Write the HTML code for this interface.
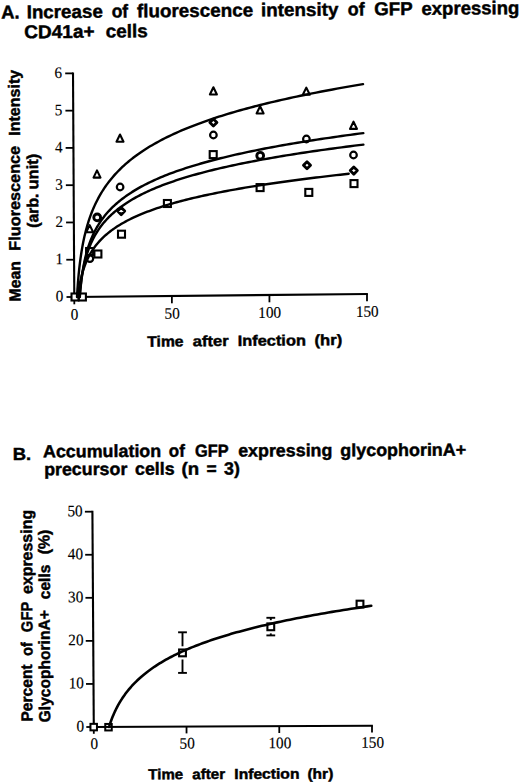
<!DOCTYPE html>
<html><head><meta charset="utf-8"><style>
html,body{margin:0;padding:0;background:#fff;}
text{-webkit-font-smoothing:antialiased;}
svg{display:block;}
</style></head><body>
<svg width="520" height="783" viewBox="0 0 520 783">
<rect width="520" height="783" fill="#fff"/>
<text transform="translate(1.17,18.56) rotate(-0.500) scale(0.9934,1)" style="font-family:'Liberation Sans',sans-serif;font-weight:bold;font-size:18.50px" stroke="#000" stroke-width="0.45">A.</text>
<text transform="translate(26.67,18.33) rotate(-0.500) scale(1.0156,1)" style="font-family:'Liberation Sans',sans-serif;font-weight:bold;font-size:18.50px" stroke="#000" stroke-width="0.45">Increase</text>
<text transform="translate(111.64,17.59) rotate(-0.500) scale(0.9506,1)" style="font-family:'Liberation Sans',sans-serif;font-weight:bold;font-size:18.50px" stroke="#000" stroke-width="0.45">of</text>
<text transform="translate(137.00,17.37) rotate(-0.500) scale(1.0191,1)" style="font-family:'Liberation Sans',sans-serif;font-weight:bold;font-size:18.50px" stroke="#000" stroke-width="0.45">fluorescence</text>
<text transform="translate(261.11,16.28) rotate(-0.500) scale(1.0183,1)" style="font-family:'Liberation Sans',sans-serif;font-weight:bold;font-size:18.50px" stroke="#000" stroke-width="0.45">intensity</text>
<text transform="translate(347.83,15.53) rotate(-0.500) scale(0.9684,1)" style="font-family:'Liberation Sans',sans-serif;font-weight:bold;font-size:18.50px" stroke="#000" stroke-width="0.45">of</text>
<text transform="translate(374.26,15.30) rotate(-0.500) scale(1.0110,1)" style="font-family:'Liberation Sans',sans-serif;font-weight:bold;font-size:18.50px" stroke="#000" stroke-width="0.45">GFP</text>
<text transform="translate(421.40,14.89) rotate(-0.500) scale(1.0045,1)" style="font-family:'Liberation Sans',sans-serif;font-weight:bold;font-size:18.50px" stroke="#000" stroke-width="0.45">expressing</text>
<text transform="translate(24.24,38.28) rotate(-0.500) scale(1.0295,1)" style="font-family:'Liberation Sans',sans-serif;font-weight:bold;font-size:18.50px" stroke="#000" stroke-width="0.45">CD41a+</text>
<text transform="translate(105.69,37.57) rotate(-0.500) scale(1.0249,1)" style="font-family:'Liberation Sans',sans-serif;font-weight:bold;font-size:18.50px" stroke="#000" stroke-width="0.45">cells</text>
<line x1="73.00" y1="72.48" x2="74.30" y2="297.90" stroke="#000" stroke-width="2.10" stroke-linecap="butt"/>
<line x1="73.40" y1="297.00" x2="367.89" y2="294.00" stroke="#000" stroke-width="2.10" stroke-linecap="butt"/>
<line x1="66.50" y1="297.00" x2="74.30" y2="297.00" stroke="#000" stroke-width="1.80" stroke-linecap="butt"/>
<text transform="translate(63.40,301.50) rotate(-0.500) scale(0.950,1)" text-anchor="end" style="font-family:'Liberation Serif',serif;font-size:16.00px" stroke="#000" stroke-width="0.15">0</text>
<line x1="66.28" y1="259.73" x2="74.08" y2="259.73" stroke="#000" stroke-width="1.80" stroke-linecap="butt"/>
<text transform="translate(63.18,264.23) rotate(-0.500) scale(0.950,1)" text-anchor="end" style="font-family:'Liberation Serif',serif;font-size:16.00px" stroke="#000" stroke-width="0.15">1</text>
<line x1="66.07" y1="222.46" x2="73.87" y2="222.46" stroke="#000" stroke-width="1.80" stroke-linecap="butt"/>
<text transform="translate(62.97,226.96) rotate(-0.500) scale(0.950,1)" text-anchor="end" style="font-family:'Liberation Serif',serif;font-size:16.00px" stroke="#000" stroke-width="0.15">2</text>
<line x1="65.85" y1="185.19" x2="73.65" y2="185.19" stroke="#000" stroke-width="1.80" stroke-linecap="butt"/>
<text transform="translate(62.75,189.69) rotate(-0.500) scale(0.950,1)" text-anchor="end" style="font-family:'Liberation Serif',serif;font-size:16.00px" stroke="#000" stroke-width="0.15">3</text>
<line x1="65.63" y1="147.92" x2="73.43" y2="147.92" stroke="#000" stroke-width="1.80" stroke-linecap="butt"/>
<text transform="translate(62.53,152.42) rotate(-0.500) scale(0.950,1)" text-anchor="end" style="font-family:'Liberation Serif',serif;font-size:16.00px" stroke="#000" stroke-width="0.15">4</text>
<line x1="65.42" y1="110.65" x2="73.22" y2="110.65" stroke="#000" stroke-width="1.80" stroke-linecap="butt"/>
<text transform="translate(62.32,115.15) rotate(-0.500) scale(0.950,1)" text-anchor="end" style="font-family:'Liberation Serif',serif;font-size:16.00px" stroke="#000" stroke-width="0.15">5</text>
<line x1="65.20" y1="73.38" x2="73.00" y2="73.38" stroke="#000" stroke-width="1.80" stroke-linecap="butt"/>
<text transform="translate(62.10,77.88) rotate(-0.500) scale(0.950,1)" text-anchor="end" style="font-family:'Liberation Serif',serif;font-size:16.00px" stroke="#000" stroke-width="0.15">6</text>
<line x1="74.30" y1="297.00" x2="74.30" y2="304.30" stroke="#000" stroke-width="1.80" stroke-linecap="butt"/>
<text transform="translate(74.60,319.80) rotate(-0.500) scale(0.950,1)" text-anchor="middle" style="font-family:'Liberation Serif',serif;font-size:16.00px" stroke="#000" stroke-width="0.15">0</text>
<line x1="171.87" y1="296.00" x2="171.87" y2="303.30" stroke="#000" stroke-width="1.80" stroke-linecap="butt"/>
<text transform="translate(172.17,318.80) rotate(-0.500) scale(0.950,1)" text-anchor="middle" style="font-family:'Liberation Serif',serif;font-size:16.00px" stroke="#000" stroke-width="0.15">50</text>
<line x1="269.43" y1="295.00" x2="269.43" y2="302.30" stroke="#000" stroke-width="1.80" stroke-linecap="butt"/>
<text transform="translate(269.73,317.80) rotate(-0.500) scale(0.950,1)" text-anchor="middle" style="font-family:'Liberation Serif',serif;font-size:16.00px" stroke="#000" stroke-width="0.15">100</text>
<line x1="367.00" y1="294.00" x2="367.00" y2="301.30" stroke="#000" stroke-width="1.80" stroke-linecap="butt"/>
<text transform="translate(367.30,316.80) rotate(-0.500) scale(0.950,1)" text-anchor="middle" style="font-family:'Liberation Serif',serif;font-size:16.00px" stroke="#000" stroke-width="0.15">150</text>
<text transform="translate(20.50,301.43) rotate(-90.350) scale(0.9876,1)" style="font-family:'Liberation Sans',sans-serif;font-weight:bold;font-size:16.00px" stroke="#000" stroke-width="0.45">Mean</text>
<text transform="translate(20.30,250.67) rotate(-90.350) scale(1.0169,1)" style="font-family:'Liberation Sans',sans-serif;font-weight:bold;font-size:16.00px" stroke="#000" stroke-width="0.45">Fluorescence</text>
<text transform="translate(19.90,135.75) rotate(-90.350) scale(1.0032,1)" style="font-family:'Liberation Sans',sans-serif;font-weight:bold;font-size:16.00px" stroke="#000" stroke-width="0.45">Intensity</text>
<text transform="translate(38.40,227.76) rotate(-90.350) scale(0.9872,1)" style="font-family:'Liberation Sans',sans-serif;font-weight:bold;font-size:16.00px" stroke="#000" stroke-width="0.45">(arb.</text>
<text transform="translate(38.20,189.50) rotate(-90.350) scale(1.0361,1)" style="font-family:'Liberation Sans',sans-serif;font-weight:bold;font-size:16.00px" stroke="#000" stroke-width="0.45">unit)</text>
<text transform="translate(147.25,346.70) rotate(-0.500) scale(1.0465,1)" style="font-family:'Liberation Sans',sans-serif;font-weight:bold;font-size:15.00px" stroke="#000" stroke-width="0.45">Time</text>
<text transform="translate(192.84,346.30) rotate(-0.500) scale(1.1038,1)" style="font-family:'Liberation Sans',sans-serif;font-weight:bold;font-size:15.00px" stroke="#000" stroke-width="0.45">after</text>
<text transform="translate(237.63,345.90) rotate(-0.500) scale(1.0938,1)" style="font-family:'Liberation Sans',sans-serif;font-weight:bold;font-size:15.00px" stroke="#000" stroke-width="0.45">Infection</text>
<text transform="translate(314.49,345.23) rotate(-0.500) scale(1.1132,1)" style="font-family:'Liberation Sans',sans-serif;font-weight:bold;font-size:15.00px" stroke="#000" stroke-width="0.45">(hr)</text>
<rect x="71.50" y="293.50" width="7.00" height="7.00" fill="#fff" stroke="#000" stroke-width="2.10"/>
<rect x="78.90" y="293.50" width="7.00" height="7.00" fill="#fff" stroke="#000" stroke-width="2.10"/>
<rect x="86.10" y="248.00" width="7.00" height="7.00" fill="#fff" stroke="#000" stroke-width="2.10"/>
<rect x="94.40" y="250.50" width="7.00" height="7.00" fill="#fff" stroke="#000" stroke-width="2.10"/>
<rect x="118.00" y="230.70" width="7.00" height="7.00" fill="#fff" stroke="#000" stroke-width="2.10"/>
<rect x="163.90" y="200.00" width="7.00" height="7.00" fill="#fff" stroke="#000" stroke-width="2.10"/>
<rect x="209.70" y="151.10" width="7.00" height="7.00" fill="#fff" stroke="#000" stroke-width="2.10"/>
<rect x="256.60" y="184.10" width="7.00" height="7.00" fill="#fff" stroke="#000" stroke-width="2.10"/>
<rect x="305.30" y="188.90" width="7.00" height="7.00" fill="#fff" stroke="#000" stroke-width="2.10"/>
<rect x="350.50" y="180.10" width="7.00" height="7.00" fill="#fff" stroke="#000" stroke-width="2.10"/>
<circle cx="89.90" cy="258.60" r="3.30" fill="#fff" stroke="#000" stroke-width="2.20"/>
<circle cx="120.10" cy="187.00" r="3.30" fill="#fff" stroke="#000" stroke-width="2.20"/>
<circle cx="213.40" cy="135.00" r="3.30" fill="#fff" stroke="#000" stroke-width="2.20"/>
<circle cx="306.40" cy="139.00" r="3.30" fill="#fff" stroke="#000" stroke-width="2.20"/>
<circle cx="353.50" cy="155.00" r="3.30" fill="#fff" stroke="#000" stroke-width="2.20"/>
<path d="M121.20,207.55 L124.75,211.10 L121.20,214.65 L117.65,211.10 Z" fill="#fff" stroke="#000" stroke-width="2.80" stroke-linejoin="round"/>
<path d="M213.40,118.95 L216.95,122.50 L213.40,126.05 L209.85,122.50 Z" fill="#fff" stroke="#000" stroke-width="2.80" stroke-linejoin="round"/>
<path d="M307.00,161.65 L310.55,165.20 L307.00,168.75 L303.45,165.20 Z" fill="#fff" stroke="#000" stroke-width="2.80" stroke-linejoin="round"/>
<path d="M353.80,167.05 L357.35,170.60 L353.80,174.15 L350.25,170.60 Z" fill="#fff" stroke="#000" stroke-width="2.80" stroke-linejoin="round"/>
<circle cx="97.20" cy="217.40" r="3.40" fill="#fff" stroke="#000" stroke-width="2.90"/>
<circle cx="260.20" cy="155.80" r="3.40" fill="#fff" stroke="#000" stroke-width="2.90"/>
<path d="M89.70,225.10 L93.20,232.30 L86.20,232.30 Z" fill="#fff" stroke="#000" stroke-width="2.10" stroke-linejoin="round"/>
<path d="M97.00,170.40 L100.50,177.60 L93.50,177.60 Z" fill="#fff" stroke="#000" stroke-width="2.10" stroke-linejoin="round"/>
<path d="M120.00,134.50 L123.50,141.70 L116.50,141.70 Z" fill="#fff" stroke="#000" stroke-width="2.10" stroke-linejoin="round"/>
<path d="M213.40,87.30 L216.90,94.50 L209.90,94.50 Z" fill="#fff" stroke="#000" stroke-width="2.10" stroke-linejoin="round"/>
<path d="M260.10,106.30 L263.60,113.50 L256.60,113.50 Z" fill="#fff" stroke="#000" stroke-width="2.10" stroke-linejoin="round"/>
<path d="M306.30,87.60 L309.80,94.80 L302.80,94.80 Z" fill="#fff" stroke="#000" stroke-width="2.10" stroke-linejoin="round"/>
<path d="M353.50,121.70 L357.00,128.90 L350.00,128.90 Z" fill="#fff" stroke="#000" stroke-width="2.10" stroke-linejoin="round"/>
<path d="M77.00,296.97 L77.00,296.96 L77.00,296.89 L77.01,296.75 L77.03,296.51 L77.04,296.17 L77.07,295.72 L77.10,295.14 L77.15,294.43 L77.20,293.60 L77.25,292.63 L77.32,291.52 L77.40,290.29 L77.49,288.94 L77.59,287.47 L77.71,285.88 L77.83,284.19 L77.97,282.40 L78.12,280.53 L78.29,278.58 L78.47,276.56 L78.66,274.47 L78.87,272.34 L79.09,270.16 L79.33,267.94 L79.59,265.70 L79.86,263.43 L80.15,261.14 L80.46,258.85 L80.78,256.54 L81.12,254.24 L81.48,251.94 L81.86,249.64 L82.26,247.35 L82.68,245.07 L83.11,242.81 L83.57,240.56 L84.05,238.33 L84.54,236.11 L85.06,233.92 L85.60,231.75 L86.16,229.60 L86.74,227.47 L87.34,225.37 L87.96,223.29 L88.61,221.23 L89.28,219.20 L89.97,217.19 L90.69,215.20 L91.42,213.24 L92.18,211.30 L92.97,209.39 L93.78,207.50 L94.61,205.63 L95.47,203.79 L96.35,201.96 L97.26,200.17 L98.19,198.39 L99.14,196.63 L100.13,194.90 L101.14,193.19 L102.17,191.50 L103.23,189.82 L104.32,188.17 L105.43,186.54 L106.57,184.93 L107.73,183.34 L108.93,181.76 L110.15,180.21 L111.40,178.67 L112.67,177.15 L113.98,175.65 L115.31,174.16 L116.67,172.69 L118.06,171.24 L119.48,169.80 L120.92,168.38 L122.40,166.97 L123.91,165.58 L125.44,164.21 L127.00,162.85 L128.60,161.50 L130.22,160.17 L131.88,158.85 L133.56,157.54 L135.28,156.25 L137.02,154.97 L138.80,153.70 L140.61,152.45 L142.45,151.20 L144.32,149.97 L146.22,148.76 L148.15,147.55 L150.12,146.35 L152.12,145.17 L154.15,143.99 L156.21,142.83 L158.31,141.68 L160.44,140.54 L162.60,139.40 L164.79,138.28 L167.02,137.17 L169.28,136.07 L171.58,134.97 L173.91,133.89 L176.27,132.81 L178.67,131.75 L181.10,130.69 L183.57,129.64 L186.07,128.60 L188.60,127.57 L191.17,126.55 L193.78,125.53 L196.42,124.52 L199.09,123.52 L201.81,122.53 L204.55,121.55 L207.34,120.57 L210.16,119.60 L213.01,118.64 L215.90,117.68 L218.83,116.73 L221.80,115.79 L224.80,114.85 L227.84,113.92 L230.91,113.00 L234.02,112.09 L237.18,111.18 L240.36,110.27 L243.59,109.38 L246.85,108.49 L250.15,107.60 L253.49,106.72 L256.87,105.85 L260.29,104.98 L263.74,104.12 L267.23,103.26 L270.77,102.41 L274.34,101.56 L277.95,100.72 L281.60,99.89 L285.29,99.05 L289.01,98.23 L292.78,97.41 L296.59,96.59 L300.44,95.78 L304.33,94.98 L308.25,94.17 L312.22,93.38 L316.23,92.58 L320.28,91.80 L324.37,91.01 L328.50,90.23 L332.68,89.46 L336.89,88.69 L341.14,87.92 L345.44,87.16 L349.78,86.40 L354.16,85.64 L358.58,84.89 L363.04,84.15" fill="none" stroke="#000" stroke-width="2.4" stroke-linecap="round" stroke-linejoin="round"/>
<path d="M79.84,296.94 L79.84,296.93 L79.85,296.88 L79.85,296.77 L79.87,296.58 L79.89,296.32 L79.91,295.96 L79.95,295.51 L79.99,294.96 L80.04,294.30 L80.10,293.54 L80.17,292.68 L80.25,291.72 L80.34,290.66 L80.44,289.51 L80.56,288.28 L80.68,286.96 L80.82,285.57 L80.97,284.12 L81.14,282.60 L81.32,281.03 L81.51,279.41 L81.72,277.76 L81.95,276.07 L82.19,274.36 L82.44,272.62 L82.72,270.87 L83.01,269.10 L83.31,267.33 L83.64,265.55 L83.98,263.78 L84.34,262.00 L84.72,260.23 L85.11,258.47 L85.53,256.72 L85.96,254.98 L86.42,253.25 L86.89,251.53 L87.39,249.83 L87.90,248.15 L88.44,246.48 L88.99,244.83 L89.57,243.20 L90.17,241.58 L90.79,239.99 L91.43,238.41 L92.10,236.85 L92.79,235.31 L93.50,233.78 L94.23,232.28 L94.98,230.80 L95.76,229.33 L96.57,227.88 L97.39,226.45 L98.25,225.04 L99.12,223.64 L100.02,222.26 L100.95,220.90 L101.90,219.56 L102.87,218.23 L103.87,216.92 L104.90,215.62 L105.95,214.34 L107.03,213.08 L108.13,211.83 L109.26,210.60 L110.42,209.38 L111.60,208.17 L112.81,206.98 L114.05,205.80 L115.32,204.64 L116.61,203.49 L117.93,202.35 L119.28,201.22 L120.66,200.11 L122.06,199.01 L123.50,197.92 L124.96,196.84 L126.45,195.78 L127.97,194.72 L129.52,193.68 L131.10,192.65 L132.71,191.63 L134.35,190.62 L136.02,189.62 L137.72,188.63 L139.45,187.64 L141.21,186.67 L143.01,185.71 L144.83,184.76 L146.68,183.82 L148.57,182.88 L150.48,181.96 L152.43,181.04 L154.41,180.13 L156.42,179.23 L158.47,178.34 L160.55,177.45 L162.65,176.58 L164.80,175.71 L166.97,174.85 L169.18,173.99 L171.42,173.15 L173.69,172.31 L176.00,171.47 L178.34,170.65 L180.72,169.83 L183.13,169.02 L185.57,168.21 L188.05,167.41 L190.56,166.62 L193.10,165.83 L195.68,165.05 L198.30,164.28 L200.95,163.51 L203.64,162.74 L206.36,161.99 L209.12,161.23 L211.91,160.49 L214.74,159.75 L217.60,159.01 L220.50,158.28 L223.44,157.55 L226.41,156.83 L229.42,156.12 L232.47,155.41 L235.55,154.70 L238.67,154.00 L241.83,153.31 L245.02,152.61 L248.26,151.93 L251.53,151.24 L254.83,150.56 L258.18,149.89 L261.56,149.22 L264.98,148.55 L268.44,147.89 L271.94,147.24 L275.48,146.58 L279.05,145.93 L282.67,145.29 L286.32,144.64 L290.01,144.01 L293.75,143.37 L297.52,142.74 L301.33,142.11 L305.18,141.49 L309.07,140.87 L313.00,140.25 L316.97,139.64 L320.98,139.03 L325.03,138.42 L329.12,137.82 L333.25,137.21 L337.43,136.62 L341.64,136.02 L345.90,135.43 L350.19,134.84 L354.53,134.26 L358.91,133.67 L363.33,133.09" fill="none" stroke="#000" stroke-width="2.4" stroke-linecap="round" stroke-linejoin="round"/>
<path d="M79.58,296.95 L79.59,296.94 L79.59,296.89 L79.60,296.78 L79.61,296.62 L79.63,296.37 L79.66,296.05 L79.69,295.63 L79.73,295.12 L79.78,294.52 L79.84,293.83 L79.92,293.04 L80.00,292.16 L80.09,291.18 L80.19,290.13 L80.30,288.99 L80.43,287.78 L80.57,286.50 L80.72,285.16 L80.89,283.77 L81.07,282.32 L81.27,280.83 L81.48,279.30 L81.70,277.74 L81.94,276.16 L82.20,274.56 L82.48,272.94 L82.77,271.30 L83.07,269.66 L83.40,268.02 L83.74,266.37 L84.10,264.73 L84.48,263.09 L84.88,261.46 L85.30,259.83 L85.73,258.22 L86.19,256.62 L86.66,255.02 L87.16,253.45 L87.67,251.88 L88.21,250.34 L88.77,248.80 L89.35,247.29 L89.95,245.79 L90.57,244.30 L91.21,242.84 L91.88,241.39 L92.57,239.95 L93.28,238.54 L94.01,237.14 L94.77,235.76 L95.55,234.40 L96.36,233.05 L97.18,231.72 L98.04,230.40 L98.91,229.10 L99.82,227.82 L100.74,226.56 L101.69,225.30 L102.67,224.07 L103.67,222.85 L104.70,221.64 L105.75,220.45 L106.83,219.27 L107.94,218.11 L109.07,216.96 L110.23,215.82 L111.41,214.70 L112.62,213.59 L113.86,212.49 L115.13,211.41 L116.43,210.34 L117.75,209.28 L119.10,208.23 L120.48,207.19 L121.89,206.17 L123.32,205.15 L124.79,204.15 L126.28,203.15 L127.80,202.17 L129.36,201.20 L130.94,200.24 L132.55,199.29 L134.19,198.34 L135.86,197.41 L137.56,196.49 L139.30,195.57 L141.06,194.66 L142.85,193.77 L144.68,192.88 L146.53,192.00 L148.42,191.13 L150.34,190.26 L152.29,189.41 L154.27,188.56 L156.29,187.72 L158.33,186.89 L160.41,186.06 L162.52,185.24 L164.67,184.43 L166.84,183.63 L169.05,182.83 L171.30,182.04 L173.57,181.26 L175.88,180.48 L178.23,179.71 L180.60,178.95 L183.02,178.19 L185.46,177.43 L187.94,176.69 L190.46,175.95 L193.00,175.21 L195.59,174.48 L198.21,173.76 L200.86,173.04 L203.55,172.33 L206.27,171.62 L209.03,170.92 L211.83,170.22 L214.66,169.53 L217.53,168.84 L220.43,168.16 L223.37,167.48 L226.35,166.81 L229.36,166.14 L232.41,165.47 L235.49,164.81 L238.62,164.16 L241.78,163.51 L244.98,162.86 L248.21,162.22 L251.48,161.58 L254.80,160.95 L258.14,160.32 L261.53,159.69 L264.96,159.07 L268.42,158.45 L271.92,157.83 L275.46,157.22 L279.04,156.61 L282.66,156.01 L286.31,155.41 L290.01,154.81 L293.75,154.22 L297.52,153.62 L301.34,153.04 L305.19,152.45 L309.08,151.87 L313.02,151.29 L316.99,150.72 L321.01,150.15 L325.06,149.58 L329.16,149.01 L333.29,148.45 L337.47,147.89 L341.69,147.33 L345.95,146.78 L350.25,146.23 L354.59,145.68 L358.97,145.13 L363.39,144.59" fill="none" stroke="#000" stroke-width="2.4" stroke-linecap="round" stroke-linejoin="round"/>
<path d="M77.90,296.96 L77.90,296.96 L77.91,296.92 L77.92,296.85 L77.93,296.74 L77.95,296.57 L77.97,296.35 L78.01,296.07 L78.05,295.72 L78.10,295.31 L78.16,294.83 L78.22,294.28 L78.30,293.67 L78.39,292.99 L78.49,292.25 L78.60,291.44 L78.73,290.58 L78.86,289.67 L79.01,288.70 L79.17,287.69 L79.34,286.64 L79.53,285.54 L79.73,284.42 L79.95,283.26 L80.18,282.08 L80.43,280.87 L80.69,279.65 L80.97,278.41 L81.27,277.16 L81.58,275.90 L81.91,274.63 L82.25,273.36 L82.62,272.09 L83.00,270.81 L83.40,269.54 L83.81,268.27 L84.25,267.00 L84.71,265.75 L85.18,264.49 L85.67,263.25 L86.19,262.01 L86.72,260.78 L87.27,259.57 L87.85,258.36 L88.44,257.16 L89.06,255.98 L89.69,254.81 L90.35,253.64 L91.03,252.49 L91.73,251.36 L92.46,250.23 L93.20,249.11 L93.97,248.01 L94.76,246.92 L95.58,245.84 L96.41,244.78 L97.27,243.72 L98.16,242.68 L99.07,241.65 L100.00,240.63 L100.95,239.62 L101.94,238.63 L102.94,237.64 L103.97,236.67 L105.03,235.70 L106.11,234.75 L107.21,233.81 L108.34,232.87 L109.50,231.95 L110.68,231.04 L111.89,230.14 L113.13,229.24 L114.39,228.36 L115.68,227.49 L117.00,226.62 L118.34,225.77 L119.71,224.92 L121.11,224.08 L122.53,223.25 L123.99,222.43 L125.47,221.61 L126.98,220.81 L128.52,220.01 L130.08,219.22 L131.68,218.44 L133.30,217.67 L134.95,216.90 L136.64,216.14 L138.35,215.39 L140.09,214.64 L141.86,213.90 L143.66,213.17 L145.49,212.44 L147.35,211.72 L149.24,211.01 L151.17,210.31 L153.12,209.60 L155.10,208.91 L157.12,208.22 L159.16,207.54 L161.24,206.86 L163.35,206.19 L165.49,205.52 L167.66,204.86 L169.86,204.21 L172.10,203.56 L174.37,202.91 L176.67,202.27 L179.00,201.64 L181.36,201.01 L183.76,200.38 L186.19,199.76 L188.66,199.15 L191.16,198.54 L193.69,197.93 L196.25,197.33 L198.85,196.73 L201.48,196.13 L204.15,195.54 L206.85,194.96 L209.59,194.38 L212.36,193.80 L215.16,193.22 L218.00,192.65 L220.88,192.09 L223.78,191.53 L226.73,190.97 L229.71,190.41 L232.72,189.86 L235.77,189.31 L238.86,188.77 L241.98,188.23 L245.14,187.69 L248.33,187.15 L251.57,186.62 L254.83,186.09 L258.14,185.57 L261.48,185.04 L264.85,184.53 L268.27,184.01 L271.72,183.50 L275.21,182.99 L278.73,182.48 L282.30,181.97 L285.90,181.47 L289.54,180.97 L293.21,180.47 L296.93,179.98 L300.68,179.49 L304.47,179.00 L308.30,178.51 L312.17,178.03 L316.07,177.55 L320.02,177.07 L324.00,176.59 L328.03,176.12 L332.09,175.64 L336.19,175.18 L340.33,174.71 L344.51,174.24 L348.73,173.78" fill="none" stroke="#000" stroke-width="2.4" stroke-linecap="round" stroke-linejoin="round"/>
<text transform="translate(12.79,460.00) rotate(-0.220) scale(1.0549,1)" style="font-family:'Liberation Sans',sans-serif;font-weight:bold;font-size:17.50px" stroke="#000" stroke-width="0.45">B.</text>
<text transform="translate(42.98,457.33) rotate(-0.220) scale(1.0224,1)" style="font-family:'Liberation Sans',sans-serif;font-weight:bold;font-size:17.50px" stroke="#000" stroke-width="0.45">Accumulation</text>
<text transform="translate(168.86,456.84) rotate(-0.220) scale(0.9734,1)" style="font-family:'Liberation Sans',sans-serif;font-weight:bold;font-size:17.50px" stroke="#000" stroke-width="0.45">of</text>
<text transform="translate(194.95,456.74) rotate(-0.220) scale(0.9360,1)" style="font-family:'Liberation Sans',sans-serif;font-weight:bold;font-size:17.50px" stroke="#000" stroke-width="0.45">GFP</text>
<text transform="translate(238.13,456.58) rotate(-0.220) scale(1.0210,1)" style="font-family:'Liberation Sans',sans-serif;font-weight:bold;font-size:17.50px" stroke="#000" stroke-width="0.45">expressing</text>
<text transform="translate(340.29,456.18) rotate(-0.220) scale(1.0246,1)" style="font-family:'Liberation Sans',sans-serif;font-weight:bold;font-size:17.50px" stroke="#000" stroke-width="0.45">glycophorinA+</text>
<text transform="translate(44.15,475.22) rotate(-0.220) scale(1.0184,1)" style="font-family:'Liberation Sans',sans-serif;font-weight:bold;font-size:17.50px" stroke="#000" stroke-width="0.45">precursor</text>
<text transform="translate(135.03,474.87) rotate(-0.220) scale(1.0168,1)" style="font-family:'Liberation Sans',sans-serif;font-weight:bold;font-size:17.50px" stroke="#000" stroke-width="0.45">cells</text>
<text transform="translate(181.59,474.69) rotate(-0.220) scale(1.0680,1)" style="font-family:'Liberation Sans',sans-serif;font-weight:bold;font-size:17.50px" stroke="#000" stroke-width="0.45">(n</text>
<text transform="translate(206.41,474.60) rotate(-0.220) scale(0.9960,1)" style="font-family:'Liberation Sans',sans-serif;font-weight:bold;font-size:17.50px" stroke="#000" stroke-width="0.45">=</text>
<text transform="translate(224.01,474.53) rotate(-0.220) scale(1.0189,1)" style="font-family:'Liberation Sans',sans-serif;font-weight:bold;font-size:17.50px" stroke="#000" stroke-width="0.45">3)</text>
<line x1="92.40" y1="510.80" x2="93.80" y2="727.90" stroke="#000" stroke-width="2.10" stroke-linecap="butt"/>
<line x1="92.90" y1="727.00" x2="372.90" y2="725.80" stroke="#000" stroke-width="2.10" stroke-linecap="butt"/>
<line x1="86.30" y1="727.00" x2="93.80" y2="727.00" stroke="#000" stroke-width="1.80" stroke-linecap="butt"/>
<text transform="translate(84.10,731.40) rotate(-0.220) scale(0.950,1)" text-anchor="end" style="font-family:'Liberation Serif',serif;font-size:16.00px" stroke="#000" stroke-width="0.15">0</text>
<line x1="86.02" y1="683.94" x2="93.52" y2="683.94" stroke="#000" stroke-width="1.80" stroke-linecap="butt"/>
<text transform="translate(83.82,688.34) rotate(-0.220) scale(0.950,1)" text-anchor="end" style="font-family:'Liberation Serif',serif;font-size:16.00px" stroke="#000" stroke-width="0.15">10</text>
<line x1="85.74" y1="640.88" x2="93.24" y2="640.88" stroke="#000" stroke-width="1.80" stroke-linecap="butt"/>
<text transform="translate(83.54,645.28) rotate(-0.220) scale(0.950,1)" text-anchor="end" style="font-family:'Liberation Serif',serif;font-size:16.00px" stroke="#000" stroke-width="0.15">20</text>
<line x1="85.46" y1="597.82" x2="92.96" y2="597.82" stroke="#000" stroke-width="1.80" stroke-linecap="butt"/>
<text transform="translate(83.26,602.22) rotate(-0.220) scale(0.950,1)" text-anchor="end" style="font-family:'Liberation Serif',serif;font-size:16.00px" stroke="#000" stroke-width="0.15">30</text>
<line x1="85.18" y1="554.76" x2="92.68" y2="554.76" stroke="#000" stroke-width="1.80" stroke-linecap="butt"/>
<text transform="translate(82.98,559.16) rotate(-0.220) scale(0.950,1)" text-anchor="end" style="font-family:'Liberation Serif',serif;font-size:16.00px" stroke="#000" stroke-width="0.15">40</text>
<line x1="84.90" y1="511.70" x2="92.40" y2="511.70" stroke="#000" stroke-width="1.80" stroke-linecap="butt"/>
<text transform="translate(82.70,516.10) rotate(-0.220) scale(0.950,1)" text-anchor="end" style="font-family:'Liberation Serif',serif;font-size:16.00px" stroke="#000" stroke-width="0.15">50</text>
<line x1="93.80" y1="727.00" x2="93.80" y2="733.80" stroke="#000" stroke-width="1.80" stroke-linecap="butt"/>
<text transform="translate(94.40,749.00) rotate(-0.220) scale(0.950,1)" text-anchor="middle" style="font-family:'Liberation Serif',serif;font-size:16.00px" stroke="#000" stroke-width="0.15">0</text>
<line x1="186.53" y1="726.60" x2="186.53" y2="733.40" stroke="#000" stroke-width="1.80" stroke-linecap="butt"/>
<text transform="translate(187.13,748.60) rotate(-0.220) scale(0.950,1)" text-anchor="middle" style="font-family:'Liberation Serif',serif;font-size:16.00px" stroke="#000" stroke-width="0.15">50</text>
<line x1="279.27" y1="726.20" x2="279.27" y2="733.00" stroke="#000" stroke-width="1.80" stroke-linecap="butt"/>
<text transform="translate(279.87,748.20) rotate(-0.220) scale(0.950,1)" text-anchor="middle" style="font-family:'Liberation Serif',serif;font-size:16.00px" stroke="#000" stroke-width="0.15">100</text>
<line x1="372.00" y1="725.80" x2="372.00" y2="732.60" stroke="#000" stroke-width="1.80" stroke-linecap="butt"/>
<text transform="translate(372.61,747.80) rotate(-0.220) scale(0.950,1)" text-anchor="middle" style="font-family:'Liberation Serif',serif;font-size:16.00px" stroke="#000" stroke-width="0.15">150</text>
<text transform="translate(32.40,721.62) rotate(-90.370) scale(0.9778,1)" style="font-family:'Liberation Sans',sans-serif;font-weight:bold;font-size:16.00px" stroke="#000" stroke-width="0.45">Percent</text>
<text transform="translate(32.40,655.83) rotate(-90.370) scale(0.8924,1)" style="font-family:'Liberation Sans',sans-serif;font-weight:bold;font-size:16.00px" stroke="#000" stroke-width="0.45">of</text>
<text transform="translate(32.40,632.18) rotate(-90.370) scale(0.9291,1)" style="font-family:'Liberation Sans',sans-serif;font-weight:bold;font-size:16.00px" stroke="#000" stroke-width="0.45">GFP</text>
<text transform="translate(32.40,594.10) rotate(-90.370) scale(0.9984,1)" style="font-family:'Liberation Sans',sans-serif;font-weight:bold;font-size:16.00px" stroke="#000" stroke-width="0.45">expressing</text>
<text transform="translate(50.30,722.31) rotate(-90.370) scale(0.9740,1)" style="font-family:'Liberation Sans',sans-serif;font-weight:bold;font-size:16.00px" stroke="#000" stroke-width="0.45">GlycophorinA+</text>
<text transform="translate(50.10,599.18) rotate(-90.370) scale(0.9722,1)" style="font-family:'Liberation Sans',sans-serif;font-weight:bold;font-size:16.00px" stroke="#000" stroke-width="0.45">cells</text>
<text transform="translate(49.60,554.37) rotate(-90.370) scale(0.9944,1)" style="font-family:'Liberation Sans',sans-serif;font-weight:bold;font-size:16.00px" stroke="#000" stroke-width="0.45">(%)</text>
<text transform="translate(148.36,779.30) rotate(-0.220) scale(1.0371,1)" style="font-family:'Liberation Sans',sans-serif;font-weight:bold;font-size:14.50px" stroke="#000" stroke-width="0.45">Time</text>
<text transform="translate(192.28,779.13) rotate(-0.220) scale(1.0476,1)" style="font-family:'Liberation Sans',sans-serif;font-weight:bold;font-size:14.50px" stroke="#000" stroke-width="0.45">after</text>
<text transform="translate(234.28,778.97) rotate(-0.220) scale(1.0803,1)" style="font-family:'Liberation Sans',sans-serif;font-weight:bold;font-size:14.50px" stroke="#000" stroke-width="0.45">Infection</text>
<text transform="translate(307.45,778.69) rotate(-0.220) scale(1.0724,1)" style="font-family:'Liberation Sans',sans-serif;font-weight:bold;font-size:14.50px" stroke="#000" stroke-width="0.45">(hr)</text>
<line x1="182.50" y1="632.30" x2="182.50" y2="672.90" stroke="#000" stroke-width="1.90" stroke-linecap="butt"/>
<line x1="178.10" y1="632.30" x2="186.90" y2="632.30" stroke="#000" stroke-width="1.90" stroke-linecap="butt"/>
<line x1="178.10" y1="672.90" x2="186.90" y2="672.90" stroke="#000" stroke-width="1.90" stroke-linecap="butt"/>
<rect x="175.90" y="646.30" width="13.2" height="13.2" fill="#fff"/>
<line x1="270.80" y1="617.80" x2="270.80" y2="635.40" stroke="#000" stroke-width="1.90" stroke-linecap="butt"/>
<line x1="266.40" y1="617.80" x2="275.20" y2="617.80" stroke="#000" stroke-width="1.90" stroke-linecap="butt"/>
<line x1="266.40" y1="635.40" x2="275.20" y2="635.40" stroke="#000" stroke-width="1.90" stroke-linecap="butt"/>
<rect x="264.20" y="620.20" width="13.2" height="13.2" fill="#fff"/>
<path d="M109.00,726.93 L109.00,726.93 L109.00,726.92 L109.01,726.89 L109.02,726.85 L109.04,726.79 L109.07,726.71 L109.10,726.60 L109.14,726.47 L109.19,726.32 L109.25,726.13 L109.32,725.92 L109.39,725.68 L109.48,725.41 L109.58,725.10 L109.69,724.77 L109.81,724.40 L109.95,724.00 L110.09,723.57 L110.25,723.11 L110.42,722.61 L110.61,722.09 L110.81,721.53 L111.02,720.94 L111.25,720.32 L111.49,719.68 L111.75,719.00 L112.02,718.30 L112.31,717.57 L112.61,716.81 L112.93,716.03 L113.27,715.23 L113.62,714.40 L113.99,713.55 L114.38,712.69 L114.79,711.80 L115.21,710.90 L115.65,709.98 L116.11,709.04 L116.59,708.09 L117.09,707.13 L117.60,706.16 L118.14,705.17 L118.70,704.17 L119.27,703.17 L119.87,702.16 L120.49,701.14 L121.12,700.11 L121.78,699.08 L122.46,698.04 L123.16,697.00 L123.88,695.95 L124.63,694.91 L125.39,693.86 L126.18,692.81 L126.99,691.76 L127.82,690.70 L128.68,689.65 L129.56,688.60 L130.46,687.55 L131.38,686.51 L132.33,685.46 L133.30,684.42 L134.30,683.38 L135.32,682.34 L136.37,681.31 L137.44,680.28 L138.53,679.25 L139.65,678.23 L140.80,677.21 L141.97,676.19 L143.16,675.18 L144.38,674.18 L145.63,673.18 L146.90,672.18 L148.20,671.19 L149.53,670.21 L150.88,669.23 L152.26,668.26 L153.66,667.29 L155.10,666.32 L156.56,665.37 L158.05,664.42 L159.56,663.47 L161.10,662.53 L162.68,661.59 L164.28,660.67 L165.90,659.74 L167.56,658.82 L169.24,657.91 L170.96,657.01 L172.70,656.11 L174.47,655.21 L176.27,654.32 L178.10,653.44 L179.96,652.56 L181.85,651.69 L183.77,650.83 L185.72,649.96 L187.70,649.11 L189.71,648.26 L191.75,647.42 L193.82,646.58 L195.92,645.74 L198.05,644.92 L200.22,644.09 L202.41,643.28 L204.64,642.47 L206.90,641.66 L209.19,640.86 L211.51,640.06 L213.86,639.27 L216.25,638.48 L218.67,637.70 L221.12,636.93 L223.60,636.16 L226.12,635.39 L228.66,634.63 L231.24,633.87 L233.86,633.12 L236.51,632.37 L239.19,631.63 L241.90,630.89 L244.65,630.16 L247.43,629.43 L250.25,628.70 L253.10,627.98 L255.98,627.27 L258.90,626.55 L261.86,625.85 L264.84,625.14 L267.87,624.45 L270.92,623.75 L274.02,623.06 L277.14,622.37 L280.31,621.69 L283.51,621.01 L286.74,620.34 L290.01,619.67 L293.31,619.00 L296.66,618.34 L300.03,617.68 L303.45,617.02 L306.90,616.37 L310.38,615.72 L313.91,615.07 L317.47,614.43 L321.06,613.80 L324.70,613.16 L328.37,612.53 L332.07,611.90 L335.82,611.28 L339.60,610.66 L343.42,610.04 L347.28,609.43 L351.18,608.82 L355.11,608.21 L359.08,607.60 L363.09,607.00 L367.14,606.40 L371.22,605.81" fill="none" stroke="#000" stroke-width="2.6" stroke-linecap="round" stroke-linejoin="round"/>
<rect x="90.45" y="723.85" width="6.50" height="6.50" fill="#fff" stroke="#000" stroke-width="2.00"/>
<rect x="105.25" y="723.95" width="6.50" height="6.50" fill="none" stroke="#000" stroke-width="2.00"/>
<rect x="179.10" y="649.50" width="6.80" height="6.80" fill="none" stroke="#000" stroke-width="2.10"/>
<rect x="267.40" y="623.40" width="6.80" height="6.80" fill="none" stroke="#000" stroke-width="2.10"/>
<rect x="356.60" y="600.70" width="6.80" height="6.80" fill="none" stroke="#000" stroke-width="2.10"/>
</svg>
</body></html>
